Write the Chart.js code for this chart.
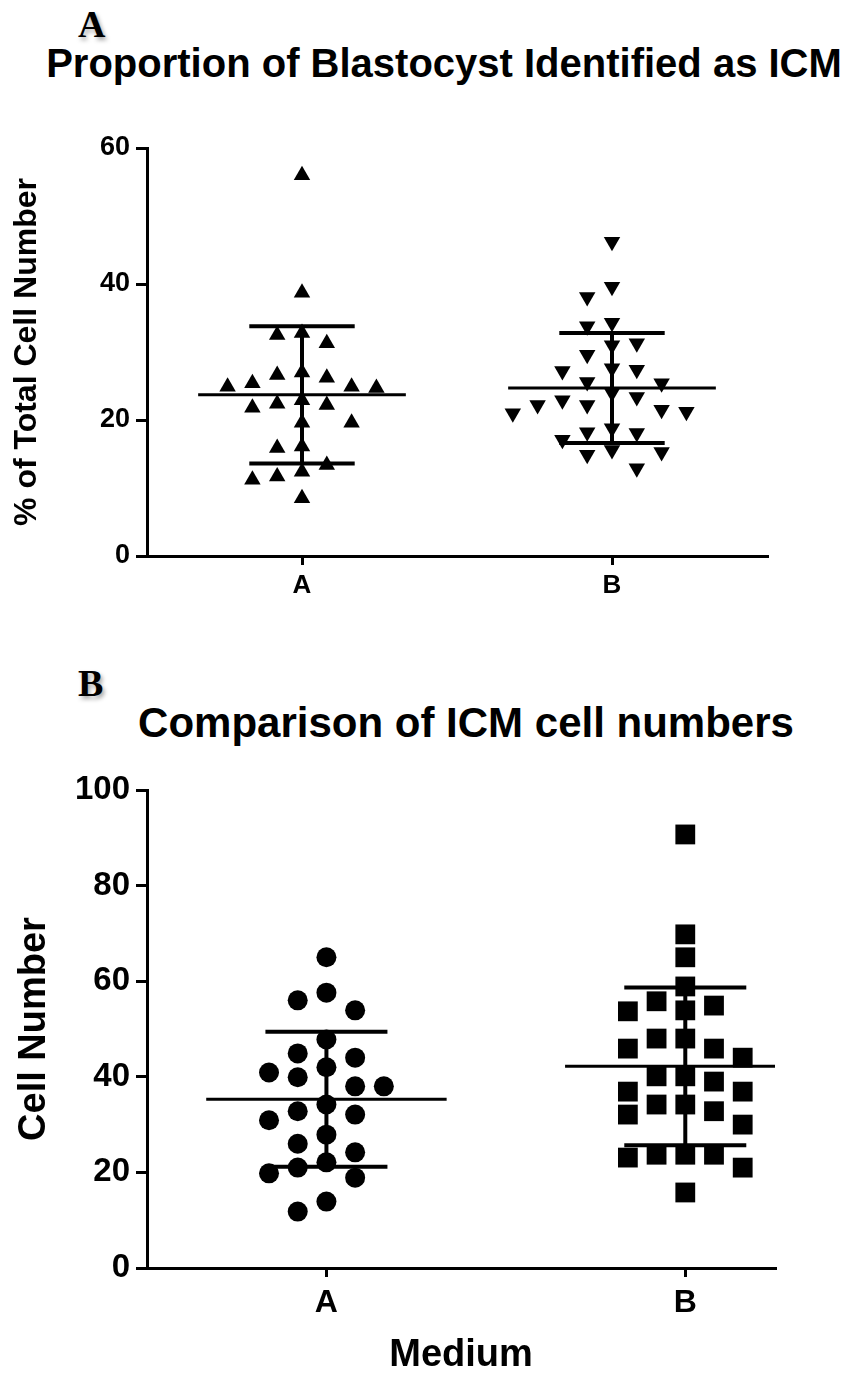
<!DOCTYPE html>
<html>
<head>
<meta charset="utf-8">
<script src="https://cdn.jsdelivr.net/npm/chart.js@4.4.1/dist/chart.umd.min.js"></script>
<style>
  body { margin: 0; background: #fff; width: 860px; height: 1380px; position: relative; overflow: hidden; }
  .panel { position: absolute; left: 78px; line-height: 1; font: bold 38px "Liberation Serif", "Times New Roman", serif; color: #000;
           text-shadow: 2px 3px 4px rgba(0,0,0,0.35); }
  .title { position: absolute; line-height: 1; white-space: nowrap; transform: translateX(-50%);
           font-family: "Liberation Sans", Arial, sans-serif; font-weight: bold; color: #000; }
  canvas { position: absolute; left: 0; }
</style>
</head>
<body>
<div class="panel" style="top:2px">A</div>
<div class="title" style="left:444px; top:43px; font-size:40px">Proportion of Blastocyst Identified as ICM</div>
<canvas id="propChart" width="860" height="620" style="top:0"></canvas>

<div class="panel" style="top:661px">B</div>
<div class="title" style="left:466px; top:702px; font-size:42px">Comparison of ICM cell numbers</div>
<canvas id="icmChart" width="860" height="740" style="top:640px"></canvas>

<script>
// groups on the x axis
const groups = ["A", "B"];

// panel A: % of total cell number identified as ICM
const propA = [56, 38.7, 32.5, 32.8, 31.3, 26.6, 26.2, 27.0, 25.4, 24.9, 24.7, 24.9, 22.9,
               22.2, 22.4, 21.8, 19.6, 19.6, 16.1, 15.9, 13.4, 11.7, 12.4, 11.2, 8.5];
const propB = [46.2, 39.6, 38.1, 34.3, 33.8, 31.3, 31.0, 29.6, 27.4, 27.2, 27.6, 25.6, 25.4, 23.4, 24.0,
               22.9, 22.2, 22.2, 21.5, 21.2, 21.0, 18.8, 18.1, 18.2, 17.1, 15.3, 14.9, 15.6, 12.9];
const propMean = [23.7, 24.7];
const propSD = [10.1, 8.1];
const propTicks = [0, 20, 40, 60];

// panel B: ICM cell numbers
const icmA = [65, 57.6, 56, 53.9, 47.8, 44.9, 44, 42, 39.9, 40.9, 38, 38, 34.2, 32.8, 30.9,
              32.1, 27.9, 26, 24.2, 22.1, 21, 19.8, 18.9, 13.9, 11.8];
const icmB = [90.7, 69.8, 65.0, 58.9, 55.8, 53.7, 53.9, 54.9, 48.0, 48.0, 45.9, 45.9, 44.0, 40.1, 39.0,
              40.1, 36.9, 32.8, 36.9, 34.2, 34.2, 32.1, 30.0, 23.7, 23.7, 23.1, 23.7, 21.0, 15.8];
const icmMean = [35.3, 42.2];
const icmSD = [14.1, 16.5];
const icmTicks = [0, 20, 40, 60, 80, 100];

const STEP = 0.16;      // gap between swarm columns (x units)
const MEAN_HALF = 0.67; // half width of the mean line
const SD_HALF = 0.34;   // half width of the SD caps
const FONT = "'Liberation Sans', Arial, sans-serif";

// simple beeswarm: highest values first, nearest free column to the centre
function swarm(values, center, minGap) {
    const cols = [0, -1, 1, -2, 2, -3, 3, -4, 4];
    const placed = [];
    const pts = [];
    const order = values.map((v, i) => i).sort((a, b) => values[b] - values[a]);
    order.forEach(i => {
        const v = values[i];
        const c = cols.find(k => placed.every(p => p.c !== k || Math.abs(p.v - v) >= minGap));
        placed.push({ c, v });
        pts[i] = { x: center + c * STEP, y: v };
    });
    return pts;
}

function segment(points, width) {
    return { data: points, showLine: true, borderColor: "#000", borderWidth: width,
             pointRadius: 0, fill: false, order: 0 };
}

function errorBars(center, mean, sd) {
    return [
        segment([{ x: center - MEAN_HALF, y: mean }, { x: center + MEAN_HALF, y: mean }], 3),
        segment([{ x: center - SD_HALF, y: mean + sd }, { x: center + SD_HALF, y: mean + sd }], 4),
        segment([{ x: center - SD_HALF, y: mean - sd }, { x: center + SD_HALF, y: mean - sd }], 4),
        segment([{ x: center, y: mean - sd }, { x: center, y: mean + sd }], 4)
    ];
}

function makeChart(id, o) {
    const datasets = [];
    o.series.forEach((vals, g) => {
        const center = 2 * g + 1;
        datasets.push(...errorBars(center, o.mean[g], o.sd[g]));
        datasets.push({
            data: swarm(vals, center, o.minGap),
            pointStyle: o.marks[g].shape,
            rotation: o.marks[g].rotation || 0,
            pointRadius: o.marks[g].radius,
            backgroundColor: "#000",
            borderColor: "#000",
            borderWidth: 0,
            showLine: false,
            order: 1
        });
    });

    new Chart(document.getElementById(id), {
        type: "scatter",
        data: { datasets },
        options: {
            responsive: false,
            animation: false,
            events: [],
            layout: { padding: o.padding },
            plugins: { legend: { display: false }, tooltip: { enabled: false } },
            scales: {
                x: {
                    type: "linear", min: 0, max: o.xMax,
                    afterBuildTicks: s => { s.ticks = groups.map((g, i) => ({ value: 2 * i + 1 })); },
                    afterFit: s => { s.height = o.xHeight; },
                    ticks: { callback: v => groups[(v - 1) / 2], color: "#000", padding: o.xPad,
                             maxRotation: 0, autoSkip: false,
                             font: { family: FONT, weight: "bold", size: o.xFont } },
                    grid: { drawOnChartArea: false, tickLength: 9, lineWidth: 3, color: "#000" },
                    border: { color: "#000", width: 3 },
                    title: o.xTitle ? { display: true, text: o.xTitle, color: "#000", padding: { top: 0, bottom: 2 },
                                        font: { family: FONT, weight: "bold", size: o.xTitleFont } } : { display: false }
                },
                y: {
                    min: 0, max: o.yMax,
                    afterBuildTicks: s => { s.ticks = o.yTicks.map(v => ({ value: v })); },
                    afterFit: s => { s.width = 147; },
                    ticks: { color: "#000", padding: 6, font: { family: FONT, weight: "bold", size: o.yFont } },
                    grid: { drawOnChartArea: false, tickLength: 11, lineWidth: 3, color: "#000" },
                    border: { color: "#000", width: 3 },
                    title: { display: true, text: o.yTitle, color: "#000", padding: { top: o.yTitlePad, bottom: 0 },
                             font: { family: FONT, weight: "bold", size: o.yTitleFont } }
                }
            }
        }
    });
}

makeChart("propChart", {
    series: [propA, propB], mean: propMean, sd: propSD, yTicks: propTicks, yMax: 60, xMax: 4,
    minGap: 3.2,
    marks: [{ shape: "triangle", radius: 9.5 }, { shape: "triangle", rotation: 180, radius: 9.5 }],
    padding: { top: 148, right: 93, bottom: 0, left: 0 },
    xHeight: 64, xPad: 5, xFont: 26, yFont: 27,
    yTitle: "% of Total Cell Number", yTitleFont: 32, yTitlePad: 8
});

makeChart("icmChart", {
    series: [icmA, icmB], mean: icmMean, sd: icmSD, yTicks: icmTicks, yMax: 100, xMax: 3.5,
    minGap: 4.5,
    marks: [{ shape: "circle", radius: 10 }, { shape: "rect", radius: 14 }],
    padding: { top: 150, right: 85, bottom: 0, left: 0 },
    xHeight: 112, xPad: 7, xFont: 32, yFont: 33,
    xTitle: "Medium", xTitleFont: 38,
    yTitle: "Cell Number", yTitleFont: 38, yTitlePad: 12
});
</script>
</body>
</html>
